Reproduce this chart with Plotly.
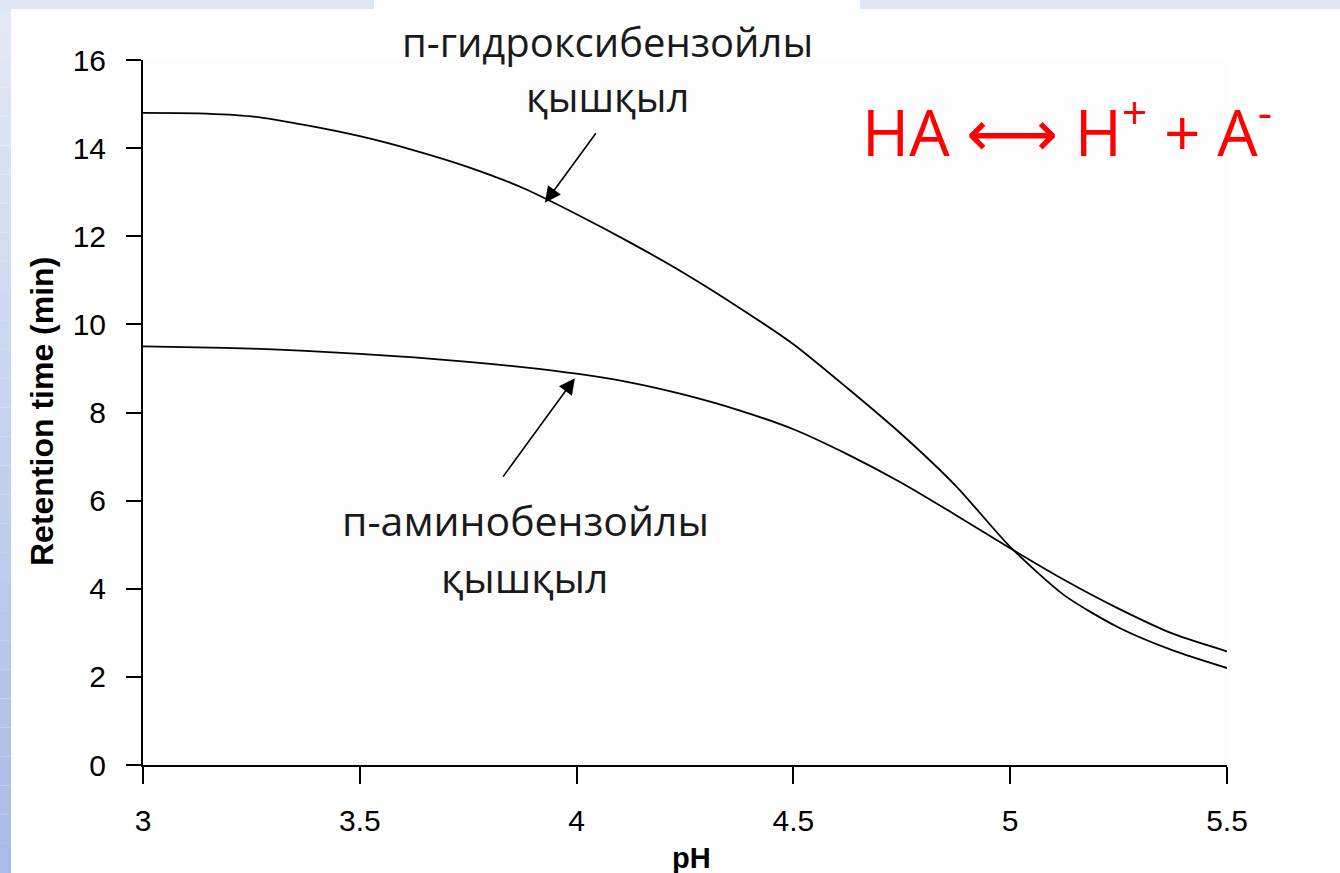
import plotly.graph_objects as go

# ---- data ----
ph = [3.0, 3.125, 3.25, 3.375, 3.5, 3.625, 3.75, 3.875, 4.0, 4.125, 4.25, 4.375, 4.5,
      4.625, 4.75, 4.875, 5.0, 5.125, 5.25, 5.375, 5.5]
hydroxy = [14.80, 14.79, 14.72, 14.52, 14.27, 13.95, 13.57, 13.10, 12.50, 11.85, 11.15, 10.38, 9.55,
           8.55, 7.50, 6.33, 4.95, 3.85, 3.12, 2.60, 2.20]
amino = [9.50, 9.48, 9.45, 9.40, 9.33, 9.25, 9.15, 9.03, 8.88, 8.68, 8.40, 8.05, 7.62,
         7.05, 6.40, 5.67, 4.92, 4.20, 3.55, 2.98, 2.58]

x_ticks = [3, 3.5, 4, 4.5, 5, 5.5]
x_ticklabels = ["3", "3.5", "4", "4.5", "5", "5.5"]
y_ticks = [0, 2, 4, 6, 8, 10, 12, 14, 16]

label_hydroxy = ["п-гидроксибензойлы", "қышқыл"]
label_amino = ["п-аминобензойлы", "қышқыл"]
equation = "HA ⟷ H<sup>+</sup> + A<sup>-</sup>"
x_title = "pH"
y_title = "Retention time (min)"

W, H = 1340, 873
L, R, T, B = 143, 1340 - 1227, 60, 873 - 765
PW, PH = W - L - R, H - T - B


def px(xp):
    return (xp - L) / PW


def py(yp):
    return (H - B - yp) / PH


fig = go.Figure()
for ys in (hydroxy, amino):
    fig.add_trace(go.Scatter(x=ph, y=ys, mode="lines",
                             line=dict(color="black", width=1.8, shape="spline", smoothing=0.7),
                             showlegend=False, hoverinfo="skip"))

shapes = []
# slide background: left gradient strip and top strip
top_c = (0xE2, 0xE9, 0xF6)
bot_c = (0xA7, 0xBC, 0xE6)
n = 30
for i in range(n):
    t = i / (n - 1)
    c = tuple(int(round(top_c[k] + (bot_c[k] - top_c[k]) * t)) for k in range(3))
    shapes.append(dict(type="rect", xref="paper", yref="paper", layer="below",
                       x0=px(0), x1=px(11), y0=py(H * (i + 1) / n), y1=py(H * i / n),
                       fillcolor="rgb(%d,%d,%d)" % c, line=dict(width=0)))
for a, b in [(0, 374), (860, W)]:
    shapes.append(dict(type="rect", xref="paper", yref="paper", layer="below",
                       x0=px(a), x1=px(b), y0=py(9), y1=py(0),
                       fillcolor="#dee6f4", line=dict(width=0)))

ann = []
for i, s in enumerate(label_hydroxy):
    ann.append(dict(text=s, xref="paper", yref="paper", x=px(607), y=py(41 + 56 * i),
                    xanchor="center", yanchor="middle", showarrow=False,
                    font=dict(family="Open Sans, Noto Sans, sans-serif", size=40, color="#1a1a1a")))
for i, s in enumerate(label_amino):
    ann.append(dict(text=s, xref="paper", yref="paper", x=px(525), y=py(520 + 57 * i),
                    xanchor="center", yanchor="middle", showarrow=False,
                    font=dict(family="Open Sans, Noto Sans, sans-serif", size=41, color="#1a1a1a")))

# arrows
ann.append(dict(x=3.927, y=12.76, ax=4.047, ay=14.37, xref="x", yref="y", axref="x", ayref="y",
                text="", showarrow=True, arrowhead=2, arrowsize=2.0, arrowwidth=1.6, arrowcolor="black"))
ann.append(dict(x=3.996, y=8.78, ax=3.828, ay=6.51, xref="x", yref="y", axref="x", ayref="y",
                text="", showarrow=True, arrowhead=2, arrowsize=2.0, arrowwidth=1.6, arrowcolor="black"))

ann.append(dict(text=equation, xref="paper", yref="paper", x=px(860), y=py(128),
                xanchor="left", yanchor="middle", showarrow=False,
                font=dict(family="Open Sans, DejaVu Sans, sans-serif", size=64, color="#ff0000")))

ann.append(dict(text="<b>%s</b>" % x_title, xref="paper", yref="paper", x=px(691), y=py(858),
                xanchor="center", yanchor="middle", showarrow=False,
                font=dict(family="Liberation Sans, Arial, sans-serif", size=29, color="black")))
ann.append(dict(text="<b>%s</b>" % y_title, xref="paper", yref="paper", x=px(42), y=py(412),
                xanchor="center", yanchor="middle", showarrow=False, textangle=-90,
                font=dict(family="Liberation Sans, Arial, sans-serif", size=32, color="black")))

tick_font = dict(family="Liberation Sans, Arial, sans-serif", size=30, color="black")

fig.update_layout(
    width=W, height=H, margin=dict(l=L, r=R, t=T, b=B, autoexpand=False),
    paper_bgcolor="white", plot_bgcolor="#fdfdfd",
    shapes=shapes, annotations=ann,
    xaxis=dict(range=[3, 5.5], tickvals=x_ticks, ticktext=x_ticklabels, showgrid=False, zeroline=False,
               showline=True, linecolor="black", linewidth=2, ticks="outside", ticklen=17, tickwidth=2,
               tickcolor="black", tickfont=tick_font, ticklabelstandoff=11),
    yaxis=dict(range=[0, 16], tickvals=y_ticks, showgrid=False, zeroline=False,
               showline=True, linecolor="black", linewidth=2, ticks="outside", ticklen=15, tickwidth=2,
               tickcolor="black", tickfont=tick_font, ticklabelstandoff=14),
)

fig.write_html("out.html")
